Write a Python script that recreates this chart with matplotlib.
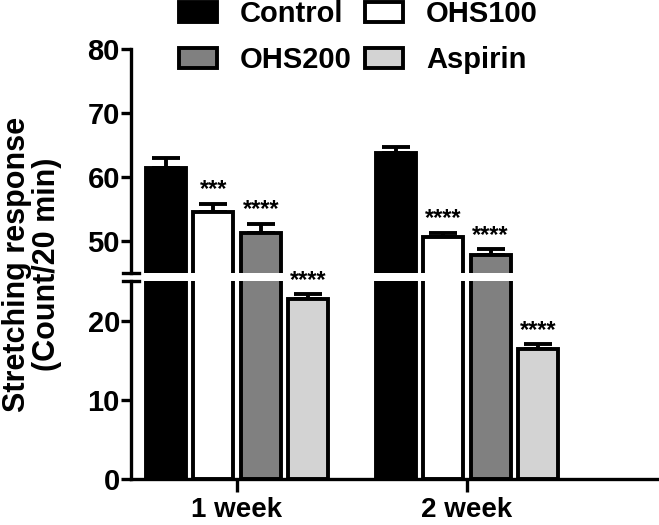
import matplotlib
matplotlib.use("Agg")
import matplotlib.pyplot as plt
from matplotlib.lines import Line2D
import numpy as np

plt.rcParams['font.family'] = ['Liberation Sans Narrow', 'Liberation Sans', 'DejaVu Sans']
plt.rcParams['font.weight'] = 'bold'

groups = ["1 week", "2 week"]
series = ["Control", "OHS100", "OHS200", "Aspirin"]
means = {
    "Control": [61.4, 63.7],
    "OHS100": [54.5, 50.6],
    "OHS200": [51.2, 47.8],
    "Aspirin": [22.7, 16.4],
}
errs = {
    "Control": [1.6, 1.0],
    "OHS100": [1.3, 0.7],
    "OHS200": [1.5, 0.9],
    "Aspirin": [0.6, 0.6],
}
stars = {
    "Control": ["", ""],
    "OHS100": ["***", "****"],
    "OHS200": ["****", "****"],
    "Aspirin": ["****", "****"],
}
colors = {"Control": "#000000", "OHS100": "#ffffff", "OHS200": "#808080", "Aspirin": "#d3d3d3"}
upper_ticks = [50, 60, 70, 80]
lower_ticks = [0, 10, 20]

W, H = 659, 525
fig = plt.figure(figsize=(W / 100, H / 100), dpi=100)
left = 131 / W
ax_up = fig.add_axes([left, 1 - 273 / H, 1 - left, (273 - 49) / H])
ax_lo = fig.add_axes([left, 1 - 479 / H, 1 - left, (479 - 281) / H])

x = np.arange(len(groups))
offsets = [-0.309, -0.103, 0.103, 0.309]
width = 0.175
lw = 2.8

handles = {}
for ax in (ax_up, ax_lo):
    for s, off in zip(series, offsets):
        b = ax.bar(x + off, means[s], width, color=colors[s], edgecolor="black",
                   linewidth=lw, zorder=2)
        handles[s] = b
        yerr = np.array([np.zeros(len(groups)), errs[s]])
        ax.errorbar(x + off, means[s], yerr=yerr, fmt="none", ecolor="black",
                    elinewidth=lw, capsize=10, capthick=lw, zorder=1)

ax_up.set_ylim(45, 80)
ax_lo.set_ylim(0, 25)
for ax in (ax_up, ax_lo):
    ax.set_xlim(-0.461, 1.835)
    ax.spines["top"].set_visible(False)
    ax.spines["right"].set_visible(False)
    ax.spines["left"].set_linewidth(2.4)
    ax.spines["bottom"].set_linewidth(2.4)
    ax.tick_params(axis="y", length=7, width=2.4, pad=1, labelsize=21)
    ax.patch.set_alpha(0)
ax_up.spines["bottom"].set_visible(False)
ax_up.set_xticks([])
ax_up.set_yticks(upper_ticks)
ax_lo.set_yticks(lower_ticks)
ax_lo.set_xticks(x)
ax_lo.set_xticklabels(groups)
ax_lo.tick_params(axis="x", length=9, width=2.4, pad=4, labelsize=20)

# stars
for s, off in zip(series, offsets):
    for i in range(len(groups)):
        if not stars[s][i]:
            continue
        top = means[s][i] + errs[s][i]
        ax = ax_up if top > 30 else ax_lo
        ax.annotate(stars[s][i], (x[i] + off, top), xytext=(0, 2),
                    textcoords="offset points", ha="center", va="bottom",
                    fontsize=17, fontweight="bold",
                    family=["Liberation Sans", "DejaVu Sans"])

# break marks
for yp in (273, 281):
    fig.add_artist(Line2D([123 / W, 139 / W], [1 - yp / H, 1 - yp / H],
                          color="black", linewidth=2.4, transform=fig.transFigure))

fig.text(32 / W, 1 - 264 / H, "Stretching response\n(Count/20 min)", rotation=90,
         ha="center", va="center", multialignment="center", fontsize=22,
         fontweight="bold", linespacing=1.0)

leg = fig.legend([handles["Control"], handles["OHS200"], handles["OHS100"], handles["Aspirin"]],
                 ["Control", "OHS200", "OHS100", "Aspirin"], ncol=2,
                 loc="upper left", bbox_to_anchor=(167 / W, 1.022), frameon=False,
                 fontsize=21, handlelength=1.3, handleheight=0.72, columnspacing=0.45,
                 handletextpad=0.8, labelspacing=0.62, borderaxespad=0.0)

fig.savefig("out.png", dpi=100)
